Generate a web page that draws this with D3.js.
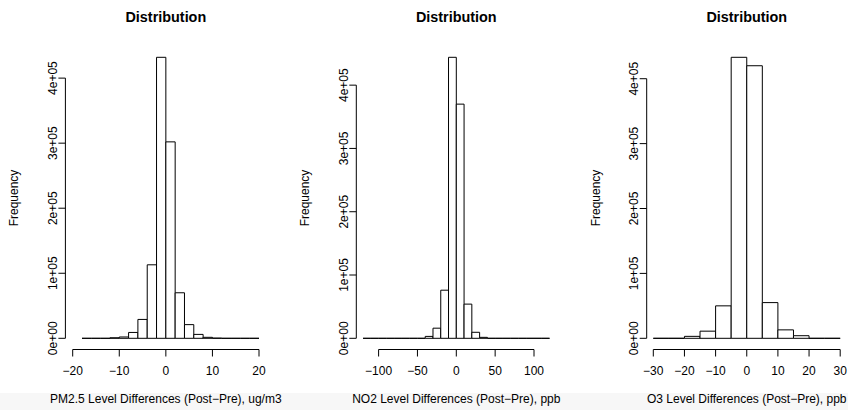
<!DOCTYPE html>
<html>
<head>
<meta charset="utf-8">
<script src="https://d3js.org/d3.v7.min.js"></script>
<style>
  body { margin: 0; background: #fff; }
  svg text { font-family: "Liberation Sans", Arial, Helvetica, sans-serif; }
</style>
</head>
<body>
<svg id="chart" width="848" height="410"></svg>
<script>
// Histogram data
var pm25Breaks = [-18, -16, -14, -12, -10, -8, -6, -4, -2, 0, 2, 4, 6, 8, 10, 12, 14, 16, 18, 20];
var pm25Counts = [0, 0, 0, 800, 2000, 9000, 29000, 113000, 432000, 302000, 70000, 21000, 6000, 1500, 300, 0, 0, 0, 0];
var pm25Ticks = [-20, -10, 0, 10, 20];

var no2Breaks = [-120, -110, -100, -90, -80, -70, -60, -50, -40, -30, -20, -10, 0, 10, 20, 30, 40, 50, 60, 70, 80, 90, 100, 110, 120];
var no2Counts = [0, 0, 0, 0, 0, 0, 0, 0, 3000, 16000, 76000, 444000, 370000, 54000, 9500, 1500, 0, 0, 0, 0, 0, 0, 0, 0];
var no2Ticks = [-100, -50, 0, 50, 100];

var o3Breaks = [-30, -25, -20, -15, -10, -5, 0, 5, 10, 15, 20, 25, 30];
var o3Counts = [0, 0, 3000, 11000, 50000, 433000, 420000, 55000, 13000, 4000, 0, 0];
var o3Ticks = [-30, -20, -10, 0, 10, 20, 30];

var freqTicks = [0, 100000, 200000, 300000, 400000];
var freqLabels = ["0e+00", "1e+05", "2e+05", "3e+05", "4e+05"];

var titles = ["Distribution", "Distribution", "Distribution"];
var xLabels = [
  "PM2.5 Level Differences (Post\u2212Pre), ug/m3",
  "NO2 Level Differences (Post\u2212Pre), ppb",
  "O3 Level Differences (Post\u2212Pre), ppb"
];

// layout of each panel (pixel positions)
var panels = [
  { breaks: pm25Breaks, counts: pm25Counts, ticks: pm25Ticks, axisX: 65.4, xr: [72.7, 259] },
  { breaks: no2Breaks, counts: no2Counts, ticks: no2Ticks, axisX: 356.3, xr: [378.6, 534] },
  { breaks: o3Breaks, counts: o3Counts, ticks: o3Ticks, axisX: 646.7, xr: [653.3, 840.2] }
];

var svg = d3.select("#chart");
var yBase = 338.3, yTop = 57.3, xAxisY = 349.5, tick = 7;
var fmt = d3.format("d");

svg.append("rect").attr("x", 0).attr("y", 393).attr("width", 848).attr("height", 17).attr("fill", "#f7f7f7");

panels.forEach(function(p, i) {
  var g = svg.append("g");
  var tk = p.ticks;
  var x = d3.scaleLinear().domain([tk[0], tk[tk.length - 1]]).range(p.xr);
  var y = d3.scaleLinear().domain([0, d3.max(p.counts)]).range([yBase, yTop]);

  var bins = p.counts.map(function(c, j) { return { x0: p.breaks[j], x1: p.breaks[j + 1], n: c }; });

  // bars as closed paths so that empty bins still show as a flat line
  g.selectAll("path.bar").data(bins).enter().append("path")
    .attr("class", "bar")
    .attr("d", function(d) {
      var a = x(d.x0), b = x(d.x1), t = y(d.n);
      return "M" + a + "," + yBase + "L" + a + "," + t + "L" + b + "," + t + "L" + b + "," + yBase + "Z";
    })
    .attr("fill", "#fff")
    .attr("stroke", "#000")
    .attr("stroke-width", 1);

  // x axis
  g.append("line")
    .attr("x1", x(tk[0])).attr("x2", x(tk[tk.length - 1]))
    .attr("y1", xAxisY).attr("y2", xAxisY)
    .attr("stroke", "#000");
  g.selectAll("line.xt").data(tk).enter().append("line")
    .attr("class", "xt")
    .attr("x1", function(d) { return x(d); }).attr("x2", function(d) { return x(d); })
    .attr("y1", xAxisY).attr("y2", xAxisY + tick)
    .attr("stroke", "#000");
  g.selectAll("text.xt").data(tk).enter().append("text")
    .attr("class", "xt")
    .attr("x", function(d) { return x(d); })
    .attr("y", 375)
    .attr("text-anchor", "middle")
    .attr("font-size", 12)
    .text(function(d) { return fmt(d); });

  // y axis
  g.append("line")
    .attr("x1", p.axisX).attr("x2", p.axisX)
    .attr("y1", y(freqTicks[0])).attr("y2", y(freqTicks[freqTicks.length - 1]))
    .attr("stroke", "#000");
  g.selectAll("line.yt").data(freqTicks).enter().append("line")
    .attr("class", "yt")
    .attr("x1", p.axisX - tick).attr("x2", p.axisX)
    .attr("y1", function(d) { return y(d); }).attr("y2", function(d) { return y(d); })
    .attr("stroke", "#000");
  g.selectAll("text.yt").data(freqTicks).enter().append("text")
    .attr("class", "yt")
    .attr("transform", function(d) { return "translate(" + (p.axisX - 8.5) + "," + y(d) + ") rotate(-90)"; })
    .attr("text-anchor", "middle")
    .attr("font-size", 12)
    .text(function(d, j) { return freqLabels[j]; });

  // labels
  g.append("text")
    .attr("transform", "translate(" + (p.axisX - 47) + "," + 198 + ") rotate(-90)")
    .attr("text-anchor", "middle")
    .attr("font-size", 12)
    .text("Frequency");
  g.append("text")
    .attr("x", x(0)).attr("y", 22)
    .attr("text-anchor", "middle")
    .attr("font-size", 14.4)
    .attr("font-weight", "bold")
    .text(titles[i]);
  g.append("text")
    .attr("x", x(0)).attr("y", 403)
    .attr("text-anchor", "middle")
    .attr("font-size", 12)
    .text(xLabels[i]);
});
</script>
</body>
</html>
